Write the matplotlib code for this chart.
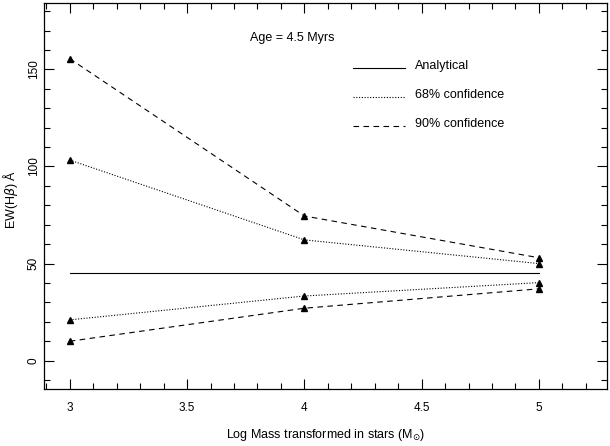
import matplotlib
matplotlib.use("Agg")
import matplotlib.pyplot as plt
from matplotlib.ticker import MultipleLocator

log_mass = [3, 4, 5]
analytical = [45, 45, 45]
upper90 = [155.5, 74.5, 53]
upper68 = [103.3, 62.2, 50]
lower68 = [21, 33.3, 40.2]
lower90 = [10, 27, 37]

plt.rcParams['font.family'] = ['Liberation Sans', 'DejaVu Sans']
plt.rcParams['mathtext.fontset'] = 'dejavusans'

fig = plt.figure(figsize=(6.10, 4.46), dpi=100)
ax = fig.add_axes([0.0721, 0.1278, 0.9229, 0.8655])

ax.plot(log_mass, analytical, color='black', lw=0.8, ls='-')
mk = dict(marker='^', ms=3.8, mfc='black', mec='black', color='black', lw=0.8)
ax.plot(log_mass, upper90, ls=(0, (5, 4)), **mk)
ax.plot(log_mass, lower90, ls=(0, (5, 4)), **mk)
ax.plot(log_mass, upper68, ls=(0, (1, 1.5)), **mk)
ax.plot(log_mass, lower68, ls=(0, (1, 1.5)), **mk)

ax.set_xlim(2.89, 5.29)
ax.set_ylim(-14.6, 184.2)
ax.xaxis.set_major_locator(MultipleLocator(0.5))
ax.xaxis.set_minor_locator(MultipleLocator(0.1))
ax.yaxis.set_major_locator(MultipleLocator(50))
ax.yaxis.set_minor_locator(MultipleLocator(10))
ax.set_xticks([3, 3.5, 4, 4.5, 5])
ax.set_xticklabels(['3', '3.5', '4', '4.5', '5'])
ax.tick_params(which='both', direction='in', top=True, right=True, labelsize=8.5, width=0.8)
ax.tick_params(which='major', length=7)
ax.tick_params(which='minor', length=4)
ax.tick_params(axis='x', pad=9)
ax.tick_params(axis='y', labelrotation=90, pad=3)
for lab in ax.get_yticklabels():
    lab.set_va('center')
for s in ax.spines.values():
    s.set_linewidth(0.9)

ax.set_xlabel(r'Log Mass transformed in stars (M$_{\odot}$)', fontsize=9, labelpad=10)
ax.set_ylabel('EW(H$\\beta$) Å', fontsize=9)
ax.yaxis.set_label_coords(-0.043, 0.49)

ax.text(0.366, 0.909, 'Age = 4.5 Myrs', transform=ax.transAxes, fontsize=9, va='center')
# legend drawn manually in axes coordinates
leg_y = [0.837, 0.762, 0.687]
leg_styles = ['-', (0, (1, 1.5)), (0, (5, 4))]
leg_labels = ['Analytical', '68% confidence', '90% confidence']
for yy, st, lb in zip(leg_y, leg_styles, leg_labels):
    ax.plot([0.549, 0.641], [yy - 0.005, yy - 0.005], transform=ax.transAxes, color='black', lw=0.8, ls=st)
    ax.text(0.659, yy, lb, transform=ax.transAxes, fontsize=9, va='center')

fig.savefig('out.png', dpi=100)
